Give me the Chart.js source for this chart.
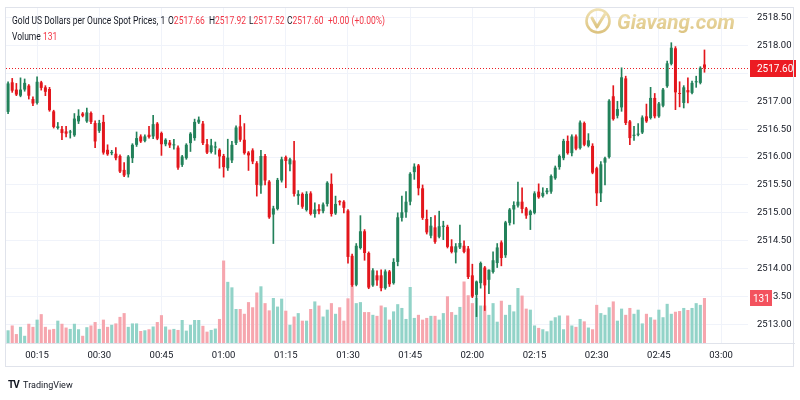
<!DOCTYPE html>
<html>
<head>
<meta charset="utf-8">
<script src="https://cdn.jsdelivr.net/npm/chart.js@4.4.1/dist/chart.umd.min.js"></script>
<style>
    html, body { margin: 0; padding: 0; background: #fff; }
    #wrap { position: relative; width: 800px; height: 400px; overflow: hidden; font-family: Roboto, sans-serif; color: #131722; }
    #frame { position: absolute; left: 5px; top: 7px; width: 789px; height: 360px; border: 1px solid #e0e3eb; box-sizing: border-box; }
    #timeLine { position: absolute; left: 5px; top: 343px; width: 790px; height: 1px; background: #e0e3eb; }
    canvas { position: absolute; left: 0; top: 0; }
    .t { position: absolute; white-space: nowrap; font-size: 10px; line-height: 12px; transform: scaleX(0.85); transform-origin: 0 0; }
    .red { color: #f23645; }
    #logo { position: absolute; left: 584px; top: 6px; }
    #tv { position: absolute; left: 8px; top: 379px; font-size: 9px; line-height: 12px; white-space: nowrap; }
</style>
</head>
<body>
<div id="wrap">
    <canvas id="chart" width="800" height="400"></canvas>
    <div id="frame"></div>
    <div id="timeLine"></div>
    <div class="t" style="left:12px; top:15px;">Gold US Dollars per Ounce Spot Prices, 1</div>
    <div class="t" style="left:168px; top:15px;">O<span class="red">2517.66</span></div>
    <div class="t" style="left:209px; top:15px;">H<span class="red">2517.92</span></div>
    <div class="t" style="left:249px; top:15px;">L<span class="red">2517.52</span></div>
    <div class="t" style="left:287px; top:15px;">C<span class="red">2517.60</span></div>
    <div class="t red" style="left:328px; top:15px;">+0.00 (+0.00%)</div>
    <div class="t" style="left:12px; top:31px;">Volume <span class="red" id="volTxt"></span></div>
    <div id="logo">
        <svg width="156" height="30" viewBox="0 0 156 30">
            <defs>
                <linearGradient id="gold" x1="0" y1="0" x2="0" y2="1">
                    <stop offset="0" stop-color="#efe0b0"/>
                    <stop offset="1" stop-color="#dcc380"/>
                </linearGradient>
            </defs>
            <circle cx="14" cy="15" r="11.5" fill="none" stroke="url(#gold)" stroke-width="2.6"/>
            <path d="M8 12 L13 21 L21 8" fill="none" stroke="url(#gold)" stroke-width="3" stroke-linecap="round" stroke-linejoin="round"/>
            <text x="33" y="23" font-family="Roboto" font-weight="bold" font-style="italic" font-size="21" fill="url(#gold)" textLength="118" lengthAdjust="spacingAndGlyphs">Giavang.com</text>
        </svg>
    </div>
    <div id="tv"><b style="font-size:10px; letter-spacing:-1px;">TV</b>&nbsp; TradingView</div>
</div>

<script>
// one-minute candles, 00:08 -> 02:56
var firstMinute = 8;
var slotCount = 179;
var tickLabels = ['00:15', '00:30', '00:45', '01:00', '01:15', '01:30', '01:45', '02:00', '02:15', '02:30', '02:45', '03:00'];
var priceTicks = [2513.00, 2513.50, 2514.00, 2514.50, 2515.00, 2515.50, 2516.00, 2516.50, 2517.00, 2517.50, 2518.00, 2518.50];

var opens = [
    2516.81, 2517.34, 2517.21, 2517.10, 2517.21, 2517.28, 2517.04, 2516.97, 2517.34, 2517.25,
    2517.22, 2516.82, 2516.52, 2516.50, 2516.46, 2516.44, 2516.39, 2516.64, 2516.78, 2516.64,
    2516.79, 2516.61, 2516.47, 2516.63, 2516.13, 2516.07, 2516.06, 2516.02, 2515.77, 2515.69,
    2515.98, 2516.22, 2516.37, 2516.29, 2516.40, 2516.37, 2516.60, 2516.43, 2516.23, 2516.26,
    2516.21, 2516.17, 2515.86, 2515.98, 2516.25, 2516.34, 2516.62, 2516.60, 2516.23, 2516.09,
    2516.17, 2516.13, 2516.02, 2515.80, 2515.94, 2516.25, 2516.55, 2516.31, 2516.08, 2516.12,
    2515.89, 2515.49, 2516.02, 2515.56, 2514.97, 2515.07, 2515.58, 2516.00, 2515.87, 2515.94,
    2515.30, 2515.34, 2515.05, 2515.35, 2514.98, 2515.07, 2515.03, 2515.16, 2515.52, 2514.99,
    2515.21, 2515.20, 2515.04, 2514.23, 2513.71, 2514.37, 2514.67, 2514.28, 2513.70, 2513.88,
    2513.88, 2513.65, 2513.95, 2513.74, 2514.12, 2514.91, 2515.01, 2515.20, 2515.73, 2515.85,
    2515.44, 2514.89, 2514.59, 2514.74, 2514.57, 2514.75, 2514.75, 2514.40, 2514.29, 2514.38,
    2514.41, 2514.36, 2513.88, 2513.53, 2513.74, 2514.02, 2513.80, 2513.94, 2514.10, 2514.47,
    2514.24, 2514.82, 2515.06, 2515.13, 2515.20, 2515.08, 2514.96, 2515.00, 2515.38, 2515.30,
    2515.37, 2515.38, 2515.62, 2515.82, 2515.98, 2516.29, 2516.07, 2516.37, 2516.16, 2516.61,
    2516.20, 2516.20, 2515.80, 2515.35, 2515.90, 2516.00, 2517.09, 2516.74, 2516.89, 2517.41,
    2516.64, 2516.38, 2516.40, 2516.44, 2516.73, 2516.70, 2517.06, 2516.73, 2516.92, 2517.27,
    2517.67, 2517.95, 2517.14, 2516.97, 2517.20, 2517.15, 2517.34, 2517.33, 2517.66
];
var highs = [
    2517.35, 2517.41, 2517.32, 2517.42, 2517.40, 2517.30, 2517.08, 2517.44, 2517.36, 2517.28,
    2517.25, 2516.84, 2516.62, 2516.55, 2516.55, 2516.48, 2516.78, 2516.85, 2516.80, 2516.88,
    2516.81, 2516.65, 2516.66, 2516.75, 2516.22, 2516.12, 2516.17, 2516.04, 2515.90, 2516.03,
    2516.24, 2516.45, 2516.40, 2516.40, 2516.55, 2516.75, 2516.62, 2516.45, 2516.33, 2516.30,
    2516.32, 2516.20, 2516.03, 2516.24, 2516.44, 2516.68, 2516.72, 2516.64, 2516.32, 2516.32,
    2516.27, 2516.15, 2516.05, 2516.32, 2516.28, 2516.56, 2516.75, 2516.60, 2516.10, 2516.15,
    2515.92, 2516.12, 2516.05, 2515.58, 2515.12, 2515.62, 2516.00, 2516.02, 2515.98, 2516.28,
    2515.40, 2515.36, 2515.38, 2515.38, 2515.18, 2515.15, 2515.18, 2515.56, 2515.70, 2515.30,
    2515.22, 2515.22, 2515.06, 2514.26, 2514.45, 2514.95, 2514.70, 2514.30, 2514.00, 2513.96,
    2513.98, 2513.98, 2513.97, 2514.18, 2515.00, 2515.30, 2515.38, 2515.72, 2515.88, 2515.87,
    2515.50, 2515.05, 2514.92, 2514.95, 2515.03, 2514.85, 2514.78, 2514.52, 2514.45, 2514.78,
    2514.50, 2514.40, 2514.08, 2513.78, 2514.12, 2514.04, 2513.98, 2514.30, 2514.45, 2514.50,
    2514.85, 2515.08, 2515.20, 2515.55, 2515.45, 2515.10, 2515.05, 2515.38, 2515.52, 2515.45,
    2515.44, 2515.68, 2515.84, 2516.04, 2516.32, 2516.38, 2516.40, 2516.40, 2516.65, 2516.63,
    2516.42, 2516.24, 2515.82, 2515.92, 2516.00, 2517.03, 2517.28, 2517.00, 2517.60, 2517.45,
    2516.66, 2516.55, 2516.60, 2516.74, 2516.95, 2517.25, 2517.14, 2516.98, 2517.23, 2517.72,
    2518.05, 2517.98, 2517.35, 2517.28, 2517.42, 2517.36, 2517.45, 2517.62, 2517.92
];
var lows = [
    2516.78, 2517.16, 2517.10, 2517.08, 2517.18, 2517.04, 2516.92, 2516.95, 2517.20, 2517.10,
    2516.82, 2516.52, 2516.50, 2516.31, 2516.36, 2516.34, 2516.37, 2516.60, 2516.72, 2516.62,
    2516.60, 2516.17, 2516.44, 2516.05, 2516.03, 2516.04, 2515.95, 2515.72, 2515.65, 2515.64,
    2515.90, 2516.19, 2516.26, 2516.27, 2516.34, 2516.33, 2516.31, 2516.03, 2516.20, 2516.17,
    2516.14, 2515.78, 2515.83, 2515.96, 2516.10, 2516.30, 2516.60, 2516.22, 2516.06, 2516.07,
    2516.05, 2515.80, 2515.64, 2515.76, 2515.90, 2516.22, 2516.28, 2516.05, 2515.76, 2515.88,
    2515.30, 2515.35, 2515.50, 2514.90, 2514.45, 2515.05, 2515.55, 2515.45, 2515.75, 2515.30,
    2515.15, 2515.08, 2515.03, 2514.96, 2514.92, 2514.98, 2515.00, 2515.12, 2514.94, 2514.97,
    2515.14, 2515.00, 2514.10, 2513.68, 2513.69, 2514.35, 2514.15, 2513.64, 2513.68, 2513.70,
    2513.60, 2513.63, 2513.68, 2513.72, 2514.05, 2514.85, 2514.92, 2515.14, 2515.60, 2515.32,
    2514.88, 2514.62, 2514.55, 2514.45, 2514.55, 2514.52, 2514.37, 2514.28, 2514.10, 2514.36,
    2514.28, 2513.82, 2513.48, 2513.14, 2513.65, 2513.25, 2513.55, 2513.92, 2514.02, 2514.05,
    2514.20, 2514.78, 2514.80, 2515.10, 2515.00, 2514.90, 2514.70, 2514.98, 2515.26, 2515.28,
    2515.34, 2515.35, 2515.60, 2515.78, 2515.95, 2516.05, 2516.02, 2516.13, 2516.14, 2516.20,
    2516.18, 2515.70, 2515.13, 2515.20, 2515.50, 2515.98, 2516.66, 2516.70, 2516.82, 2516.58,
    2516.22, 2516.30, 2516.38, 2516.42, 2516.62, 2516.68, 2516.70, 2516.71, 2516.90, 2517.25,
    2517.65, 2516.85, 2516.90, 2516.88, 2516.97, 2517.13, 2517.25, 2517.31, 2517.52
];
var closes = [
    2517.32, 2517.19, 2517.12, 2517.21, 2517.33, 2517.10, 2516.96, 2517.35, 2517.24, 2517.17,
    2516.84, 2516.54, 2516.55, 2516.43, 2516.42, 2516.45, 2516.69, 2516.74, 2516.74, 2516.80,
    2516.63, 2516.28, 2516.61, 2516.08, 2516.05, 2516.09, 2515.98, 2515.74, 2515.67, 2516.01,
    2516.22, 2516.34, 2516.28, 2516.37, 2516.36, 2516.59, 2516.33, 2516.23, 2516.31, 2516.21,
    2516.22, 2515.81, 2516.01, 2516.22, 2516.42, 2516.63, 2516.67, 2516.25, 2516.08, 2516.21,
    2516.19, 2516.01, 2515.82, 2515.99, 2516.22, 2516.53, 2516.31, 2516.07, 2516.03, 2515.92,
    2515.50, 2516.02, 2515.58, 2514.92, 2515.08, 2515.59, 2515.96, 2515.93, 2515.96, 2515.34,
    2515.34, 2515.11, 2515.34, 2514.98, 2515.06, 2515.03, 2515.15, 2515.54, 2514.98, 2515.16,
    2515.19, 2515.09, 2514.21, 2513.71, 2514.41, 2514.67, 2514.28, 2513.66, 2513.97, 2513.79,
    2513.65, 2513.95, 2513.72, 2514.12, 2514.92, 2515.01, 2515.20, 2515.70, 2515.83, 2515.44,
    2514.91, 2514.65, 2514.77, 2514.48, 2514.76, 2514.77, 2514.39, 2514.30, 2514.40, 2514.46,
    2514.30, 2513.85, 2513.50, 2513.77, 2514.10, 2513.70, 2513.98, 2514.15, 2514.38, 2514.19,
    2514.83, 2515.06, 2515.14, 2515.20, 2515.07, 2514.95, 2515.03, 2515.35, 2515.28, 2515.36,
    2515.40, 2515.66, 2515.81, 2516.02, 2516.29, 2516.07, 2516.37, 2516.15, 2516.62, 2516.22,
    2516.30, 2515.72, 2515.35, 2515.87, 2515.98, 2517.01, 2516.68, 2516.86, 2517.43, 2516.61,
    2516.34, 2516.40, 2516.42, 2516.71, 2516.64, 2517.06, 2516.73, 2516.96, 2517.21, 2517.68,
    2517.96, 2517.16, 2517.13, 2517.25, 2517.16, 2517.33, 2517.36, 2517.60, 2517.60
];
var volumes = [
    37, 51, 26, 47, 21, 56, 47, 68, 84, 47,
    39, 41, 65, 56, 45, 41, 56, 40, 21, 46,
    51, 61, 41, 68, 47, 53, 57, 76, 87, 47,
    57, 57, 35, 37, 40, 48, 61, 81, 48, 39,
    41, 38, 67, 36, 53, 67, 67, 50, 33, 38,
    42, 70, 240, 178, 162, 99, 99, 85, 119, 104,
    147, 165, 116, 95, 131, 106, 129, 94, 53, 77,
    87, 65, 65, 99, 121, 109, 77, 97, 116, 85,
    104, 65, 130, 172, 116, 119, 90, 90, 82, 79,
    109, 104, 68, 92, 113, 102, 70, 163, 73, 82,
    68, 73, 79, 79, 68, 87, 136, 90, 82, 105,
    179, 139, 116, 131, 109, 109, 82, 116, 62, 123,
    82, 111, 92, 160, 138, 100, 97, 51, 44, 40,
    34, 65, 75, 80, 40, 80, 51, 47, 70, 63,
    45, 40, 111, 87, 82, 104, 121, 65, 100, 82,
    102, 85, 97, 57, 85, 75, 68, 97, 75, 114,
    85, 91, 93, 102, 96, 102, 116, 111, 131
];

var upColor = '#22815a';
var downColor = '#e3161c';
var upVol = '#92d3c8';
var downVol = '#f6a6ae';
var priceBox = '#ec1c23';
var volBox = '#f3525e';

// build category labels hh:mm
var minuteLabels = [];
for (var i = 0; i < slotCount; i++) {
    var m = firstMinute + i;
    var hh = Math.floor(m / 60), mm = m % 60;
    minuteLabels.push((hh < 10 ? '0' : '') + hh + ':' + (mm < 10 ? '0' : '') + mm);
}

var bodies = [], wicks = [], candleColors = [], volColors = [];
for (i = 0; i < closes.length; i++) {
    bodies.push([opens[i], closes[i]]);
    wicks.push([lows[i], highs[i]]);
    var up = closes[i] >= opens[i];
    candleColors.push(up ? upColor : downColor);
    volColors.push(up ? upVol : downVol);
}
var last = closes.length - 1;
document.getElementById('volTxt').textContent = volumes[last];

var lastPricePlugin = {
    id: 'lastPrice',
    beforeDatasetsDraw: function (chart) {
        var c = chart.ctx, a = chart.chartArea;
        var py = Math.round(chart.scales.y.getPixelForValue(closes[last])) + 0.5;
        c.save();
        c.strokeStyle = priceBox;
        c.lineWidth = 1;
        c.setLineDash([1, 2]);
        c.beginPath();
        c.moveTo(a.left, py);
        c.lineTo(a.right, py);
        c.stroke();
        c.restore();
    },
    afterDraw: function (chart) {
        var c = chart.ctx, a = chart.chartArea;
        var py = Math.round(chart.scales.y.getPixelForValue(closes[last]));
        var vy = Math.round(chart.scales.yv.getPixelForValue(volumes[last]));
        c.save();
        //price label
        c.fillStyle = priceBox;
        c.fillRect(a.right + 2, py - 8, 46, 17);
        c.fillStyle = '#fff';
        c.font = '10px Roboto';
        c.textBaseline = 'middle';
        c.fillText(closes[last].toFixed(2), a.right + 9, py + 1);
        //volume label
        c.fillStyle = volBox;
        c.fillRect(a.right + 2, vy - 8, 22, 16);
        c.fillStyle = '#fff';
        c.fillText(String(volumes[last]), a.right + 5, vy + 1);
        c.restore();
    }
};

Chart.defaults.font.family = 'Roboto';
Chart.defaults.font.size = 9.5;
Chart.defaults.color = '#131722';

var chart = new Chart(document.getElementById('chart'), {
    type: 'bar',
    data: {
        labels: minuteLabels,
        datasets: [
            { label: 'Body', data: bodies, yAxisID: 'y', backgroundColor: candleColors, grouped: false, barPercentage: 0.72, categoryPercentage: 1, minBarLength: 1, order: 1 },
            { label: 'Wick', data: wicks, yAxisID: 'y', backgroundColor: candleColors, grouped: false, barThickness: 1, order: 2 },
            { label: 'Volume', data: volumes, yAxisID: 'yv', backgroundColor: volColors, grouped: false, barPercentage: 0.75, categoryPercentage: 1, order: 3 }
        ]
    },
    options: {
        responsive: false,
        animation: false,
        layout: { padding: { left: 6, top: 8, right: 5, bottom: 32 } },
        plugins: { legend: { display: false }, tooltip: { enabled: false } },
        scales: {
            x: {
                grid: { color: '#f0f3fa', offset: false, drawTicks: false },
                border: { display: false },
                ticks: {
                    autoSkip: false, maxRotation: 0, padding: 7,
                    callback: function (v, idx) {
                        var l = minuteLabels[idx];
                        return tickLabels.indexOf(l) >= 0 ? l : null;
                    }
                },
                afterFit: function (s) { s.height = 25; s.paddingLeft = 0; s.paddingRight = 0; }
            },
            y: {
                position: 'right',
                min: 2512.667,
                max: 2518.672,
                grid: { color: '#f0f3fa', drawTicks: false },
                border: { display: false },
                ticks: { padding: 9, callback: function (v) { return v.toFixed(2); } },
                afterBuildTicks: function (s) {
                    s.ticks = priceTicks.map(function (v) { return { value: v }; });
                },
                // keep the plot edge where the picture has it
                afterFit: function (s) { s.width = 47; s.paddingTop = 0; s.paddingBottom = 0; }
            },
            yv: { display: false, min: 0, max: 975 }
        }
    },
    plugins: [lastPricePlugin]
});
</script>
</body>
</html>
